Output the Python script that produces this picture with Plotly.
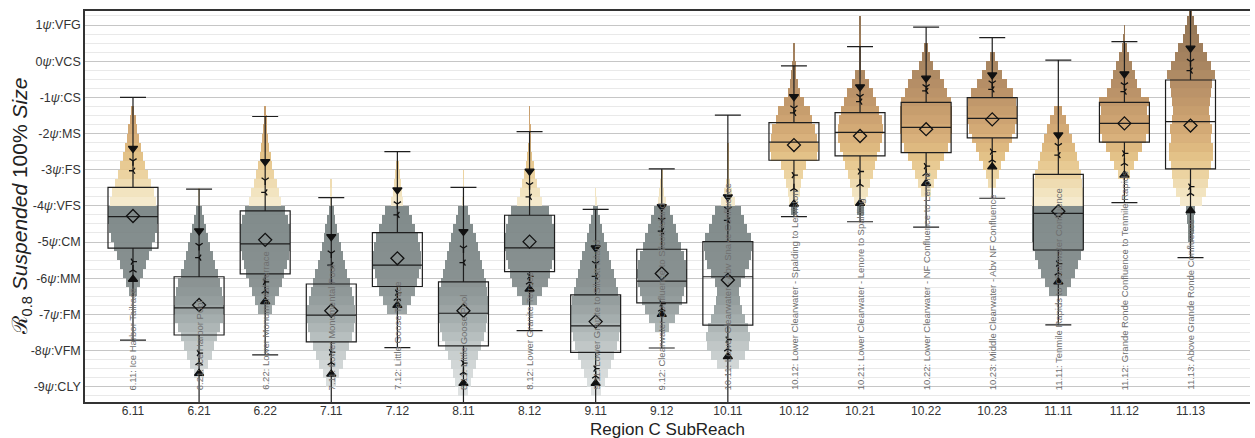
import plotly.graph_objects as go

# ---------------- data ----------------
cats = ["6.11", "6.21", "6.22", "7.11", "7.12", "8.11", "8.12", "9.11", "9.12",
        "10.11", "10.12", "10.21", "10.22", "10.23", "11.11", "11.12", "11.13"]
site_labels = [
    "6.11: Ice Harbor Tailrace",
    "6.21: Ice Harbor Pool",
    "6.22: Lower Monumental Terrace",
    "7.11: Lower Monumental Pool",
    "7.12: Little Goose Terrace",
    "8.11: Little Goose Pool",
    "8.12: Lower Granite Terrace",
    "9.11: Lower Granite to Silcott Island",
    "9.12: Clearwater Confluence to Silcott Island",
    "10.11: Lower Clearwater - Abv Snake Confluence",
    "10.12: Lower Clearwater - Spalding to Lewiston",
    "10.21: Lower Clearwater - Lenore to Spalding",
    "10.22: Lower Clearwater - NF Confluence to Lenore",
    "10.23: Middle Clearwater - Abv NF Confluence",
    "11.11: Tenmile Rapids to Clearwater Confluence",
    "11.12: Grande Ronde Confluence to Tenmile Rapids",
    "11.13: Above Grande Ronde Confluence",
]
y_tickvals = [1, 0, -1, -2, -3, -4, -5, -6, -7, -8, -9]
y_ticktext = ["1<i>ψ</i>:VFG", "0<i>ψ</i>:VCS", "-1<i>ψ</i>:CS", "-2<i>ψ</i>:MS", "-3<i>ψ</i>:FS",
              "-4<i>ψ</i>:VFS", "-5<i>ψ</i>:CM", "-6<i>ψ</i>:MM", "-7<i>ψ</i>:FM",
              "-8<i>ψ</i>:VFM", "-9<i>ψ</i>:CLY"]

# histogram (0.25 psi bins), lowest bin edge per subreach, relative densities bottom -> top
bin_size = 0.25
hist_low = [-6.5, -8.75, -7.0, -9.0, -7.0, -9.25, -6.75, -9.25, -7.5,
            -8.5, -4.25, -4.25, -3.75, -3.5, -6.5, -3.25, -5.0]
dens_6_11 = [8, 14, 20, 26, 32, 38, 44, 48, 50, 50, 46, 42, 36, 30, 25, 20, 16, 12, 9, 6, 3]
dens_6_21 = [10, 18, 25, 30, 36, 42, 48, 50, 48, 46, 42, 37, 31, 27, 22, 18, 14, 10, 6, 1.2, 0.8]
dens_6_22 = [14, 20, 27, 33, 38, 43, 47, 50, 50, 50, 46, 40, 32, 28, 23, 18, 14, 11, 8, 6, 4, 3, 2]
dens_7_11 = [10, 16, 24, 30, 36, 42, 46, 48, 48, 45, 41, 37, 32, 27, 23, 19, 15, 12, 8, 5, 1.2, 0.8, 0.6]
dens_7_12 = [20, 28, 36, 40, 44, 48, 48, 46, 42, 36, 30, 24, 12, 9, 7, 5, 3]
dens_8_11 = [10, 16, 20, 25, 30, 36, 42, 46, 48, 50, 50, 48, 45, 41, 37, 33, 29, 25, 20, 14, 10,
             1.2, 0.8, 0.6, 0.6]
dens_8_12 = [15, 25, 36, 40, 44, 48, 50, 50, 48, 44, 38, 25, 20, 15, 11, 8, 5, 3, 2, 1, 0.8, 0.6]
dens_9_11 = [10, 18, 24, 30, 36, 42, 46, 50, 50, 50, 48, 44, 40, 36, 31, 27, 22, 17, 13, 9, 5, 1, 0.6]
dens_9_12 = [14, 26, 34, 40, 44, 48, 50, 48, 44, 38, 33, 28, 22, 16, 8, 5, 3, 1]
dens_10_11 = [22, 34, 42, 44, 40, 34, 28, 24, 22, 26, 34, 42, 46, 48, 46, 38, 32, 26,
              14, 8, 4, 2, 1.5, 1, 1]
dens_10_12 = [6, 9, 12, 15, 19, 25, 46, 48, 46, 43, 36, 32, 20, 12, 8, 5, 4, 1, 0.6]
dens_10_21 = [7, 12, 16, 20, 25, 30, 34, 40, 44, 45, 43, 38, 32, 26, 17, 10, 2, 1, 0.8, 0.6, 0.6, 0.6]
dens_10_22 = [10, 16, 22, 28, 36, 44, 50, 52, 52, 52, 50, 42, 36, 28, 14, 8, 4]
dens_10_23 = [8, 13, 18, 26, 33, 40, 46, 50, 50, 48, 42, 30, 20, 12, 5]
dens_11_11 = [18, 26, 34, 40, 46, 50, 52, 52, 52, 52, 52, 50, 48, 46, 41, 37, 33, 28, 22, 16, 8]
dens_11_12 = [12, 20, 28, 36, 44, 50, 50, 46, 50, 34, 26, 22, 16, 10, 5, 2, 0.8]
dens_11_13 = [5, 6, 7, 9, 22, 30, 35, 37, 40, 44, 44, 40, 42, 38, 36, 38, 40, 42, 48, 40,
              32, 25, 16, 12, 7, 3]
densities = [dens_6_11, dens_6_21, dens_6_22, dens_7_11, dens_7_12, dens_8_11, dens_8_12,
             dens_9_11, dens_9_12, dens_10_11, dens_10_12, dens_10_21, dens_10_22,
             dens_10_23, dens_11_11, dens_11_12, dens_11_13]

# box statistics (psi)
q1 = [-5.17, -7.57, -5.88, -7.76, -6.23, -7.87, -5.82, -8.05, -6.68,
      -7.30, -2.74, -2.62, -2.53, -2.12, -5.22, -2.24, -2.98]
median = [-4.30, -6.82, -5.05, -7.02, -5.64, -6.97, -5.16, -7.32, -6.08,
          -5.96, -2.24, -1.97, -1.83, -1.58, -4.21, -1.72, -1.67]
q3 = [-3.49, -5.96, -4.14, -6.16, -4.74, -6.10, -4.26, -6.46, -5.20,
      -4.99, -1.70, -1.42, -1.14, -1.01, -3.13, -1.14, -0.52]
lower_fence = [-7.71, -9.6, -8.12, -9.6, -7.92, -9.6, -7.45, -9.6, -7.93,
               -9.6, -4.30, -4.44, -4.59, -3.79, -7.29, -3.91, -5.43]
upper_fence = [-1.00, -3.54, -1.53, -3.77, -2.50, -3.49, -1.95, -4.10, -2.98,
               -1.49, -0.13, 0.40, 0.94, 0.65, 0.03, 0.54, 1.60]
mean_vals = [-4.28, -6.74, -4.94, -6.90, -5.45, -6.90, -4.99, -7.20, -5.87,
             -6.05, -2.32, -2.07, -1.88, -1.61, -4.15, -1.72, -1.78]
# percentile markers
p95 = [-2.41, -4.69, -2.78, -4.85, -3.56, -4.71, -3.04, -5.16, -4.02,
       -3.75, -0.98, -0.71, -0.47, -0.38, -2.04, -0.35, 0.36]
p90 = [-2.76, -5.10, -3.29, -5.31, -3.95, -5.17, -3.42, -5.60, -4.40,
       -4.10, -1.30, -0.98, -0.71, -0.61, -2.34, -0.66, -0.01]
p84 = [-3.03, -5.43, -3.63, -5.64, -4.25, -5.57, -3.75, -5.95, -4.70,
       -4.40, -1.43, -1.12, -0.82, -0.78, -2.60, -0.84, -0.26]
p16 = [-5.54, -8.07, -6.10, -8.05, -6.40, -8.35, -5.95, -8.50, -6.70,
       -7.70, -3.15, -3.05, -2.90, -2.50, -5.60, -2.55, -3.47]
p10 = [-5.77, -8.33, -6.35, -8.33, -6.55, -8.60, -6.10, -8.70, -6.85,
       -7.95, -3.52, -3.40, -3.10, -2.73, -5.85, -2.82, -3.65]
p05 = [-6.03, -8.63, -6.65, -8.65, -6.75, -8.91, -6.30, -8.91, -7.00,
       -8.17, -3.95, -3.93, -3.38, -2.92, -6.10, -3.15, -4.13]

# ---------------- figure ----------------
idx = list(range(len(cats)))
dens_to_x = 1 / 66.1   # density units -> category widths

bx, bbase, bh, bw, bc = [], [], [], [], []
for i, lo, d in zip(idx, hist_low, densities):
    for k, v in enumerate(d):
        b = lo + k * bin_size
        bx.append(i)
        bbase.append(b)
        bh.append(bin_size)
        bw.append(v * dens_to_x)
        bc.append(b + bin_size / 2)

cmin, cmax = -9.5, 1.5
def t(v):
    return (v - cmin) / (cmax - cmin)
colorscale = [
    [t(-9.5), "#e4e7e7"], [t(-8.5), "#d3d8d8"], [t(-8.0), "#c3c9c9"],
    [t(-7.5), "#afb7b7"], [t(-7.0), "#9ca5a5"], [t(-6.5), "#8c9595"],
    [t(-6.0), "#838c8c"], [t(-4.01), "#7b8585"], [t(-3.99), "#f6ecd2"],
    [t(-3.5), "#f1e0b6"], [t(-3.0), "#e9cc94"], [t(-2.5), "#e0ba7c"],
    [t(-2.0), "#d4a972"], [t(-1.5), "#c89c68"], [t(-1.0), "#bb9062"],
    [t(0.0), "#a27e58"], [t(1.5), "#87694a"],
]

fig = go.Figure()
fig.add_trace(go.Bar(
    x=bx, y=bh, base=bbase, width=bw,
    marker=dict(color=bc, colorscale=colorscale, cmin=cmin, cmax=cmax, line=dict(width=0)),
    opacity=0.95, showlegend=False, hoverinfo="skip"))

fig.add_trace(go.Box(
    x=idx, q1=q1, median=median, q3=q3, lowerfence=lower_fence, upperfence=upper_fence,
    width=0.756, whiskerwidth=0.52, fillcolor="rgba(0,0,0,0)",
    line=dict(color="#1e1e1e", width=1.2), boxpoints=False, showlegend=False))

marker_specs = [
    (p95, "triangle-down", 8), (p90, "y-down-open", 6), (p84, "y-left-open", 5),
    (p16, "y-right-open", 5), (p10, "y-up-open", 6), (p05, "triangle-up", 8),
]
for vals, sym, sz in marker_specs:
    fig.add_trace(go.Scatter(
        x=idx, y=vals, mode="markers",
        marker=dict(symbol=sym, size=sz, color="#111111", line=dict(color="#111111", width=1.3)),
        showlegend=False, cliponaxis=True))

fig.add_trace(go.Scatter(
    x=idx, y=mean_vals, mode="markers",
    marker=dict(symbol="diamond-open", size=10, color="#111111", line=dict(color="#111111", width=1.3)),
    showlegend=False))

annotations = []
for i, lab in zip(idx, site_labels):
    annotations.append(dict(
        x=i, y=-9.15, xref="x", yref="y", text=lab, textangle=-90, showarrow=False,
        xanchor="center", yanchor="bottom",
        font=dict(family="Arial", size=9.5, color="#6f6f6f")))
annotations.append(dict(
    x=-0.055, y=0.5, xref="paper", yref="paper",
    text="ℛ<sub>0.8</sub> <i>Suspended</i> 100% <i>Size</i>",
    textangle=-90, showarrow=False, xanchor="center", yanchor="middle",
    font=dict(family="Arial", size=21, color="#222222")))
annotations.append(dict(
    x=0.5, y=-0.071, xref="paper", yref="paper", text="Region C SubReach",
    showarrow=False, xanchor="center", yanchor="middle",
    font=dict(family="Arial", size=17, color="#222222")))

fig.update_layout(
    width=1255, height=438,
    margin=dict(l=85, r=5, t=11, b=36),
    paper_bgcolor="white", plot_bgcolor="white",
    barmode="overlay", bargap=0, showlegend=False,
    annotations=annotations,
    xaxis=dict(
        range=[-0.726, 16.9], tickvals=idx, ticktext=cats, showgrid=False, zeroline=False,
        showline=True, linecolor="#333333", linewidth=1.5, mirror=True, ticks="",
        ticklabelstandoff=-3,
        tickfont=dict(family="Arial", size=12, color="#333333")),
    yaxis=dict(
        range=[-9.423, 1.387], tickvals=y_tickvals, ticktext=y_ticktext,
        showgrid=True, gridcolor="#c6c6c6", gridwidth=1.2, zeroline=False,
        showline=True, linecolor="#333333", linewidth=1.5, ticks="",
        tickfont=dict(family="Arial", size=12.5, color="#333333"),
        minor=dict(dtick=0.25, tick0=0, showgrid=True, gridcolor="#e9e9e9", gridwidth=1)),
)

fig.write_html("out.html")
